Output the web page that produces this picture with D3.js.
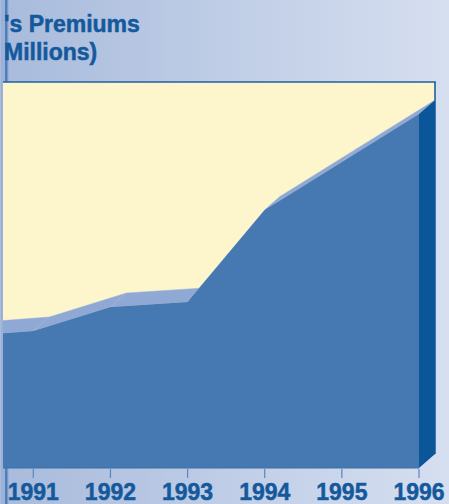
<!DOCTYPE html>
<html>
<head>
<meta charset="utf-8">
<script src="https://cdn.jsdelivr.net/npm/d3@7/dist/d3.min.js"></script>
<style>
  html, body { margin: 0; padding: 0; background: #ffffff; }
  svg { display: block; }
</style>
</head>
<body>
<div id="chart"></div>
<script>
// ---- data (premiums, in millions) ----
const years = [1990, 1991, 1992, 1993, 1994, 1995, 1996];
const premiums = [131, 137, 161, 166, 258, 306, 354];
const tickYears = [1991, 1992, 1993, 1994, 1995, 1996];
const titleLines = ["'s Premiums", "Millions)"];

const W = 449, H = 504;
const svg = d3.select("#chart").append("svg").attr("width", W).attr("height", H);

// background gradient
const defs = svg.append("defs");
const grad = defs.append("linearGradient").attr("id", "bg").attr("x1", "0").attr("x2", "1").attr("y1", "0").attr("y2", "0");
grad.append("stop").attr("offset", "0%").attr("stop-color", "#a8bbdc");
grad.append("stop").attr("offset", "100%").attr("stop-color", "#d6dff0");
svg.append("rect").attr("width", W).attr("height", H).attr("fill", "url(#bg)");

// left strip (remnant of axis)
svg.append("rect").attr("x", 1).attr("y", 0).attr("width", 8).attr("height", H).attr("fill", "#9cb1d8");
svg.append("rect").attr("x", 5).attr("y", 0).attr("width", 2.5).attr("height", H).attr("fill", "#4f7fb9");

// scales
const x = d3.scaleLinear().domain([1991, 1996]).range([33.3, 419]);
const y = d3.scaleLinear().domain([0, 400]).range([468, 68]);
const dx = 16, dy = -14;   // depth offset

const plotLeft = 3, plotTop = 82, plotRight = x(1996) + dx;

// back wall (yellow)
svg.append("rect").attr("x", plotLeft).attr("y", plotTop)
  .attr("width", plotRight - plotLeft).attr("height", y(0) + dy - plotTop)
  .attr("fill", "#fdf5cb");
svg.append("line").attr("x1", plotLeft).attr("x2", plotRight + 0.8)
  .attr("y1", plotTop).attr("y2", plotTop).attr("stroke", "#1f5fa0").attr("stroke-width", 1.6);
svg.append("line").attr("x1", plotRight).attr("x2", plotRight)
  .attr("y1", plotTop).attr("y2", y(0) + dy).attr("stroke", "#1f5fa0").attr("stroke-width", 1.6);

const clip = defs.append("clipPath").attr("id", "plotclip");
clip.append("rect").attr("x", plotLeft).attr("y", 0).attr("width", W).attr("height", H);

const g = svg.append("g").attr("clip-path", "url(#plotclip)");

const pts = years.map((yr, i) => [x(yr), y(premiums[i])]);

// top surface segments
for (let i = 0; i < pts.length - 1; i++) {
  const a = pts[i], b = pts[i + 1];
  g.append("path")
    .attr("d", d3.line()([a, b, [b[0] + dx, b[1] + dy], [a[0] + dx, a[1] + dy]]) + "Z")
    .attr("fill", "#8fa8d4").attr("stroke", "#9bb2da").attr("stroke-width", 0.5);
}

// right side
const last = pts[pts.length - 1];
g.append("path")
  .attr("d", d3.line()([[last[0], last[1]], [last[0] + dx, last[1] + dy], [last[0] + dx, y(0) + dy], [last[0], y(0)]]) + "Z")
  .attr("fill", "#0a5699");

// front area
const area = d3.area().x(d => d[0]).y0(y(0)).y1(d => d[1]);
g.append("path").attr("d", area(pts)).attr("fill", "#4679b1");

// baseline
svg.append("line").attr("x1", plotLeft).attr("x2", x(1996))
  .attr("y1", y(0)).attr("y2", y(0)).attr("stroke", "#3d6fa8").attr("stroke-width", 1);

// x axis ticks and labels
const axisG = svg.append("g");
axisG.selectAll("line.tick").data(tickYears).enter().append("line")
  .attr("x1", d => x(d)).attr("x2", d => x(d))
  .attr("y1", y(0) + 1).attr("y2", y(0) + 10)
  .attr("stroke", "#5a86bd").attr("stroke-width", 1.2);
axisG.selectAll("text").data(tickYears).enter().append("text")
  .attr("x", d => x(d)).attr("y", 500)
  .attr("text-anchor", "middle")
  .attr("font-family", "'Liberation Sans', Arial, sans-serif")
  .attr("font-weight", "bold").attr("font-size", 23)
  .attr("fill", "#15599c").attr("stroke", "#15599c").attr("stroke-width", 0.5)
  .text(d => d);

// title (cropped)
svg.selectAll("text.title").data(titleLines).enter().append("text")
  .attr("class", "title")
  .attr("x", 4).attr("y", (d, i) => 32 + i * 28)
  .attr("font-family", "'Liberation Sans', Arial, sans-serif")
  .attr("font-weight", "bold").attr("font-size", 23)
  .attr("fill", "#15599c").attr("stroke", "#15599c").attr("stroke-width", 0.5)
  .text(d => d);
</script>
</body>
</html>
